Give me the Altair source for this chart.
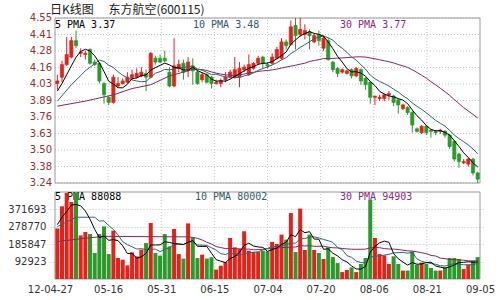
import altair as alt
import numpy as np
import pandas as pd

# ---------------- data ----------------
date_labels = ["12-04-27", "05-16", "05-31", "06-15", "07-04", "07-20", "08-06", "08-21", "09-05"]

opens = [4.03, 4.08, 4.18, 4.24, 4.37, 4.27, 4.26, 4.30, 4.20, 4.19,
         4.03, 3.92, 3.88, 4.01, 4.03, 4.04, 4.07, 4.08, 4.09, 4.11,
         4.08, 4.23, 4.23, 4.23, 4.12, 4.01, 4.15, 4.19, 4.14, 4.17,
         4.12, 4.06, 4.10, 4.08, 4.03, 4.03, 4.06, 4.08, 4.08, 4.08,
         4.14, 4.10, 4.15, 4.19, 4.24, 4.18, 4.19, 4.23, 4.23, 4.36,
         4.34, 4.49, 4.42, 4.42, 4.44, 4.36, 4.42, 4.31, 4.37, 4.20,
         4.15, 4.12, 4.11, 4.14, 4.09, 4.14, 4.07, 4.04, 3.92, 3.91,
         3.91, 3.94, 3.93, 3.90, 3.83, 3.84, 3.80, 3.67, 3.64, 3.69,
         3.66, 3.65, 3.65, 3.65, 3.62, 3.57, 3.47, 3.40, 3.39, 3.43, 3.32]
highs = [4.10, 4.21, 4.40, 4.40, 4.45, 4.31, 4.29, 4.31, 4.22, 4.20,
         4.04, 3.93, 4.10, 4.08, 4.07, 4.12, 4.14, 4.15, 4.16, 4.14,
         4.28, 4.25, 4.26, 4.29, 4.16, 4.39, 4.22, 4.22, 4.24, 4.23,
         4.14, 4.12, 4.11, 4.09, 4.06, 4.07, 4.12, 4.14, 4.24, 4.20,
         4.18, 4.26, 4.20, 4.25, 4.25, 4.20, 4.27, 4.32, 4.39, 4.38,
         4.53, 4.55, 4.55, 4.50, 4.46, 4.43, 4.45, 4.41, 4.39, 4.21,
         4.16, 4.15, 4.14, 4.15, 4.16, 4.15, 4.08, 4.05, 3.93, 3.94,
         3.95, 3.97, 3.94, 3.91, 3.87, 3.85, 3.81, 3.68, 3.70, 3.70,
         3.67, 3.66, 3.67, 3.66, 3.63, 3.58, 3.48, 3.43, 3.44, 3.44, 3.33]
lows = [3.98, 4.04, 4.17, 4.23, 4.31, 4.24, 4.22, 4.18, 4.17, 4.03,
        3.87, 3.86, 3.87, 4.00, 4.02, 4.03, 4.06, 4.07, 4.08, 3.97,
        4.07, 4.18, 4.19, 4.20, 4.00, 4.00, 4.12, 4.06, 4.08, 4.02,
        4.02, 4.04, 4.03, 3.99, 4.02, 4.00, 4.04, 4.07, 4.07, 4.00,
        4.12, 4.09, 4.14, 4.18, 4.15, 4.15, 4.18, 4.22, 4.22, 4.30,
        4.33, 4.30, 4.40, 4.38, 4.30, 4.35, 4.33, 4.29, 4.21, 4.12,
        4.08, 4.11, 4.10, 4.07, 4.08, 4.02, 3.98, 3.87, 3.86, 3.89,
        3.89, 3.90, 3.85, 3.79, 3.82, 3.78, 3.64, 3.64, 3.63, 3.62,
        3.60, 3.62, 3.63, 3.60, 3.51, 3.41, 3.36, 3.39, 3.37, 3.30, 3.24]
closes = [4.05, 4.18, 4.26, 4.37, 4.33, 4.28, 4.27, 4.19, 4.18, 4.05,
          3.94, 3.88, 4.08, 4.03, 4.05, 4.08, 4.10, 4.11, 4.12, 4.08,
          4.27, 4.20, 4.20, 4.21, 4.01, 4.17, 4.18, 4.12, 4.20, 4.13,
          4.03, 4.10, 4.04, 4.03, 4.04, 4.05, 4.08, 4.12, 4.14, 4.15,
          4.16, 4.18, 4.19, 4.23, 4.19, 4.17, 4.24, 4.30, 4.36, 4.33,
          4.48, 4.41, 4.46, 4.45, 4.41, 4.41, 4.37, 4.39, 4.22, 4.14,
          4.11, 4.14, 4.13, 4.09, 4.15, 4.05, 4.02, 3.92, 3.93, 3.92,
          3.94, 3.95, 3.88, 3.86, 3.86, 3.80, 3.70, 3.65, 3.69, 3.64,
          3.65, 3.64, 3.66, 3.62, 3.53, 3.43, 3.41, 3.41, 3.43, 3.32, 3.27]
volumes = [270000, 388000, 460000, 411000, 462000, 233000, 251000, 240000, 139000, 240000,
           281000, 133000, 258000, 112000, 103000, 73000, 142000, 121000, 157000, 192000,
           299000, 139000, 125000, 240000, 174000, 267000, 133000, 109000, 297000, 222000,
           112000, 130000, 109000, 116000, 50000, 71000, 91000, 219000, 169000, 162000,
           255000, 151000, 144000, 144000, 151000, 148000, 198000, 187000, 237000, 210000,
           352000, 144000, 376000, 155000, 237000, 155000, 139000, 107000, 169000, 117000,
           85000, 37000, 48000, 62000, 37000, 80000, 112000, 422000, 219000, 133000,
           126000, 80000, 121000, 80000, 45000, 45000, 148000, 77000, 87000, 80000,
           59000, 45000, 45000, 62000, 112000, 112000, 107000, 53000, 77000, 98000, 117000]

# starting points of the moving-average lines
# (their earlier history lies before the first bar shown)
p_ma5_head_idx, p_ma5_head_val = [0, 1, 2, 3], [3.97, 4.03, 4.10, 4.17]
p_ma10_head_idx, p_ma10_head_val = [0, 3, 6], [3.89, 4.02, 4.13]
p_ma30_head_idx, p_ma30_head_val = [0, 6, 12, 16, 20, 24, 28], [3.85, 3.89, 3.94, 3.99, 4.02, 4.09, 4.13]
v_ma5_head_idx, v_ma5_head_val = [0, 1, 2, 3], [290000, 330000, 360000, 395000]
v_ma10_head_idx, v_ma10_head_val = [0, 4, 8], [280000, 330000, 330000]
v_ma30_head_idx, v_ma30_head_val = [0, 5, 10, 20, 28], [200000, 215000, 228000, 226000, 225000]

price_tick_labels = ["3.24", "3.38", "3.50", "3.63", "3.76", "3.89", "4.03", "4.16", "4.28", "4.41", "4.55"]
vol_tick_values = [92923, 185847, 278770, 371693]
price_legend = ["5 PMA 3.37", "10 PMA 3.48", "30 PMA 3.77"]
vol_legend = ["5 PMA 88088", "10 PMA 80002", "30 PMA 94903"]
title_text = "日K线图\u3000 东方航空(600115)"

# ---------------- styling ----------------
RED = "#e2231a"
GREEN = "#2b9a2b"
MA_COLORS = ["#000000", "#2f6470", "#8a2460"]
TXT_COLORS = ["#000000", "#2f5a6a", "#8a2a78"]
GRID = "#c4c4c4"
BORDER = "#9a9a9a"
W, H = 435, 261
P_H = 165
V_TOP = 174

n = len(closes)
P_MIN, P_MAX = 3.24, 4.55
V_MAX = 464616
P_STEP = (P_MAX - P_MIN) / 10

bars = pd.DataFrame({
    "xc": np.arange(n) + 0.5,
    "open": opens, "high": highs, "low": lows, "close": closes, "vol": volumes,
})
bars["dir"] = np.where(bars["close"] >= bars["open"], "up", "down")


def ma_frame(values, w, head_idx, head_val):
    roll = pd.Series(values, dtype=float).rolling(w).mean()
    xs = [i + 0.5 for i in head_idx] + [i + 0.5 for i in range(w - 1, len(values))]
    vs = list(head_val) + [float(roll[i]) for i in range(w - 1, len(values))]
    return pd.DataFrame({"xc": xs, "v": vs})


p_ma = [
    ma_frame(closes, 5, p_ma5_head_idx, p_ma5_head_val),
    ma_frame(closes, 10, p_ma10_head_idx, p_ma10_head_val),
    ma_frame(closes, 30, p_ma30_head_idx, p_ma30_head_val),
]
v_ma = [
    ma_frame(volumes, 5, v_ma5_head_idx, v_ma5_head_val),
    ma_frame(volumes, 10, v_ma10_head_idx, v_ma10_head_val),
    ma_frame(volumes, 30, v_ma30_head_idx, v_ma30_head_val),
]

x_ticks = [n * k / 8 for k in range(9)]
vgrid = pd.DataFrame({"xv": x_ticks[1:-1]})
vgrid["p0"], vgrid["p1"] = P_MIN, P_MAX
vgrid["v0"], vgrid["v1"] = 0, V_MAX
frame = pd.DataFrame({"x0": [0], "x1": [n], "p0": [P_MIN], "p1": [P_MAX], "v0": [0], "v1": [V_MAX]})
pticks = pd.DataFrame({"pv": [P_MIN + k * P_STEP for k in range(11)], "lab": price_tick_labels})
pticks["x0"], pticks["x1"] = 0, n
pticks["lx"] = -3.0 * n / W   # 3 px left of the panel, expressed in x-scale units
one = pd.DataFrame({"a": [0]})

x_scale = alt.Scale(domain=[0, n], nice=False, zero=False)
py_scale = alt.Scale(domain=[P_MIN, P_MAX], range=[P_H, 0], nice=False, zero=False)
vy_scale = alt.Scale(domain=[0, V_MAX], range=[H, V_TOP], nice=False, zero=False)

labels_js = "[" + ",".join("'%s'" % d for d in date_labels) + "]"
x_axis = alt.Axis(values=x_ticks, labelExpr=labels_js + "[round(datum.value*8/%d)]" % n,
                  grid=False, ticks=False, domain=False, title=None, labelAngle=0,
                  labelFlush=False, labelOverlap=False, labelFont="DejaVu Sans",
                  labelFontSize=10, labelColor="#333333", labelPadding=5,
                  labelOffset={"condition": {"test": "datum.value == 0", "value": -5}, "value": 0})
vy_axis = alt.Axis(values=vol_tick_values, format="d", grid=True, gridColor=GRID, gridDash=[1, 2],
                   ticks=False, domain=False, title=None, orient="left", labelFont="DejaVu Sans",
                   labelFontSize=10, labelColor="#333333", labelPadding=4, labelOverlap=False)

dir_color = alt.Color("dir:N", scale=alt.Scale(domain=["up", "down"], range=[RED, GREEN]), legend=None)
dir_stroke = alt.Stroke("dir:N", scale=alt.Scale(domain=["up", "down"], range=[RED, GREEN]), legend=None)


def X(field):
    return alt.X(field, type="quantitative", scale=x_scale, axis=x_axis)


def PY(field):
    return alt.Y(field, type="quantitative", scale=py_scale, axis=None)


def VY(field):
    return alt.Y(field, type="quantitative", scale=vy_scale, axis=vy_axis)


def label(txt, px, py, color, font="DejaVu Sans Mono", size=10):
    return alt.Chart(one).mark_text(align="left", baseline="middle", font=font, fontSize=size,
                                    color=color).encode(
        x=alt.value(px), y=alt.value(py), text=alt.value(txt))


# ---------------- price panel ----------------
p_hgrid = alt.Chart(pticks).mark_rule(color=GRID, strokeDash=[1, 2], strokeWidth=1).encode(
    x=X("x0"), x2="x1", y=PY("pv"))
p_labels = alt.Chart(pticks).mark_text(align="right", baseline="middle", font="DejaVu Sans",
                                       fontSize=10, color="#9b2d2d").encode(
    x=X("lx"), y=PY("pv"), text="lab:N")
p_grid = alt.Chart(vgrid).mark_rule(color=GRID, strokeDash=[1, 2], strokeWidth=1).encode(
    x=X("xv"), y=PY("p0"), y2="p1")
p_wick = alt.Chart(bars).mark_rule(strokeWidth=1).encode(
    x=X("xc"), y=PY("low"), y2="high", color=dir_color)
p_body = alt.Chart(bars).mark_bar(size=3.2, strokeWidth=0.7).encode(
    x=X("xc"), y=PY("open"), y2="close", color=dir_color, stroke=dir_stroke)
p_lines = [alt.Chart(df).mark_line(strokeWidth=1, color=c).encode(x=X("xc"), y=PY("v"))
           for df, c in zip(p_ma, MA_COLORS)]
p_frame = alt.Chart(frame).mark_rect(fillOpacity=0, stroke=BORDER, strokeWidth=1).encode(
    x=X("x0"), x2="x1", y=PY("p0"), y2="p1")
price = alt.layer(
    p_hgrid, p_grid, p_frame, p_labels, p_wick, p_body, p_lines[2], p_lines[1], p_lines[0],
    label(price_legend[0], 5, 7, TXT_COLORS[0]),
    label(price_legend[1], 143, 7, TXT_COLORS[1]),
    label(price_legend[2], 290, 7, TXT_COLORS[2]),
    label(title_text, 0, -8, "#1a1a1a", font="Noto Sans CJK SC", size=12),
)

# ---------------- volume panel ----------------
v_grid = alt.Chart(vgrid).mark_rule(color=GRID, strokeDash=[1, 2], strokeWidth=1).encode(
    x=X("xv"), y=VY("v0"), y2="v1")
v_frame = alt.Chart(frame).mark_rect(fillOpacity=0, stroke=BORDER, strokeWidth=1).encode(
    x=X("x0"), x2="x1", y=VY("v0"), y2="v1")
v_bars = alt.Chart(bars).mark_bar(size=4).encode(
    x=X("xc"), y=VY("vol"), y2=alt.datum(0), color=dir_color)
v_lines = [alt.Chart(df).mark_line(strokeWidth=1, color=c).encode(x=X("xc"), y=VY("v"))
           for df, c in zip(v_ma, MA_COLORS)]
volume = alt.layer(
    v_grid, v_frame,
    label(vol_legend[0], 5, 179, TXT_COLORS[0]),
    label(vol_legend[1], 145, 179, TXT_COLORS[1]),
    label(vol_legend[2], 290, 179, TXT_COLORS[2]),
    v_bars, v_lines[2], v_lines[1], v_lines[0],
)

chart = alt.layer(price, volume).resolve_scale(y="independent").resolve_axis(y="independent").properties(
    width=W, height=H,
    autosize=alt.AutoSizeParams(type="none"),
    padding={"left": 50, "top": 18, "right": 15, "bottom": 21},
    background="white",
).configure_view(stroke=None)

chart.save("out.html", embed_options={"renderer": "svg", "actions": False})
